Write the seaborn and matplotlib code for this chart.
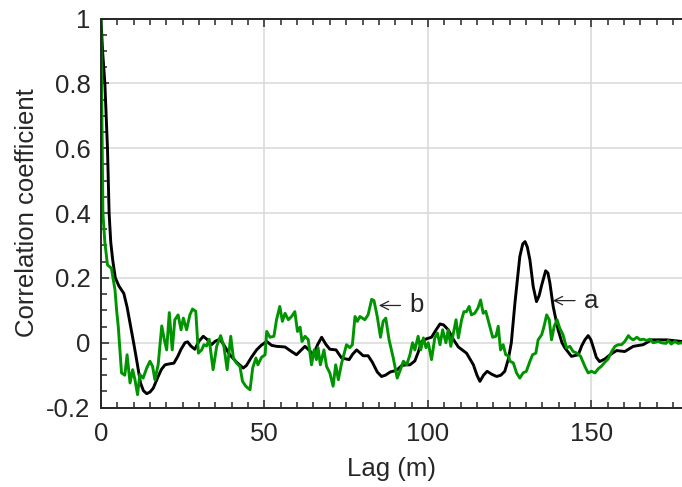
import numpy as np
import pandas as pd
import matplotlib
matplotlib.use("Agg")
import matplotlib.pyplot as plt
from matplotlib.ticker import MultipleLocator, FixedLocator, FixedFormatter
import seaborn as sns

# ---- data ----
lag_a = [0, 0.5, 1.2, 2.0, 2.5, 3.0, 3.6, 4.4, 5.5, 7.0, 8.0, 9.1, 10.0, 10.9, 12.1, 13.0, 14.0, 15.0, 16.0,
         17.5, 18.5, 19.6, 21.0, 22.3, 23.5, 24.5, 25.7, 26.5, 27.5, 28.7, 30.0, 31.3, 32.5, 33.8, 35.0, 36.4,
         37.8, 39.4, 41.5, 43.5, 44.5, 46.0, 47.6, 49.0, 50.7, 52.2, 53.7, 56.3, 58.0, 59.8, 61.0, 62.4, 63.9,
         64.9, 66.3, 67.5, 68.8, 70.0, 71.9, 73.6, 75.9, 77.0, 78.2, 80.2, 81.7, 83.0, 84.5, 85.8, 87.0, 88.5,
         90.4, 92.0, 93.5, 94.5, 96.0, 97.0, 98.1, 99.5, 101.1, 102.5, 103.7, 104.8, 106.2, 107.8, 109.3, 111.8,
         113.9, 115.0, 115.9, 117.0, 118.1, 119.5, 121.0, 122.3, 123.5, 124.6, 125.5, 126.6, 128.1, 129.0, 129.7,
         130.4, 131.2, 132.2, 133.2, 134.0, 134.8, 136.0, 136.7, 137.3, 138.3, 139.8, 141.0, 141.9, 143.9, 146.0,
         147.0, 148.0, 149.0, 149.8, 150.6, 151.5, 152.5, 154.1, 155.7, 157.7, 160.2, 162.8, 165.8, 168.4, 173.0,
         177.7]
corr_a = [1.0, 0.9, 0.8, 0.6, 0.4, 0.31, 0.255, 0.2, 0.175, 0.152, 0.11, 0.05, 0.0, -0.052, -0.124, -0.148,
          -0.157, -0.152, -0.14, -0.104, -0.082, -0.068, -0.065, -0.063, -0.042, -0.02, 0.0, 0.003, -0.01, -0.02,
          0.005, 0.02, 0.01, -0.006, 0.005, 0.011, -0.01, -0.037, -0.06, -0.078, -0.07, -0.045, -0.022, -0.008,
          0.004, -0.008, -0.011, -0.013, -0.025, -0.037, -0.025, -0.011, -0.025, -0.037, -0.005, 0.017, -0.005,
          -0.02, -0.022, -0.047, -0.052, -0.035, -0.022, -0.04, -0.04, -0.06, -0.09, -0.104, -0.1, -0.09, -0.085,
          -0.07, -0.068, -0.068, -0.056, -0.03, 0.004, 0.012, 0.017, 0.04, 0.058, 0.055, 0.04, 0.01, -0.013,
          -0.032, -0.068, -0.1, -0.119, -0.1, -0.088, -0.097, -0.104, -0.1, -0.088, -0.05, 0.0, 0.122, 0.266,
          0.305, 0.312, 0.295, 0.255, 0.173, 0.127, 0.145, 0.178, 0.222, 0.215, 0.184, 0.112, 0.04, 0.0, -0.016,
          -0.042, -0.037, -0.01, 0.009, 0.022, 0.01, -0.015, -0.045, -0.058, -0.05, -0.037, -0.024, -0.027,
          -0.011, -0.006, 0.009, 0.009, 0.004]

lag_b = [0, 0.2, 0.4, 0.6, 1.2, 2.0, 3.2, 3.7, 4.3, 4.8, 5.3, 6.3, 7.3, 8.0, 8.9, 9.7, 10.4, 11.2, 11.9, 12.9,
         14.0, 15.0, 15.8, 16.5, 17.5, 18.6, 19.4, 20.1, 20.9, 21.8, 22.6, 23.6, 24.5, 25.2, 26.2, 27.2, 28.0,
         29.0, 29.8, 30.8, 31.5, 32.3, 33.1, 34.3, 35.4, 36.6, 37.6, 38.6, 39.7, 40.5, 41.5, 42.5, 43.3, 44.3,
         45.6, 46.4, 47.4, 48.0, 49.1, 50.2, 50.7, 51.7, 52.9, 53.7, 54.7, 55.5, 56.3, 57.3, 58.3, 59.3, 60.1,
         60.9, 61.5, 62.4, 63.4, 64.4, 65.2, 65.9, 66.4, 67.1, 68.2, 69.0, 70.0, 71.0, 71.8, 72.6, 73.6, 75.1,
         76.1, 76.9, 77.7, 78.4, 79.2, 80.7, 81.7, 82.8, 83.5, 84.5, 85.5, 86.3, 87.1, 88.1, 89.4, 90.6, 91.4,
         92.5, 93.5, 94.5, 95.3, 96.0, 97.0, 97.8, 98.6, 99.4, 100.1, 101.1, 102.1, 102.9, 103.7, 104.5, 105.5,
         106.2, 107.0, 107.8, 108.6, 109.3, 110.3, 111.0, 111.8, 112.6, 113.3, 114.3, 115.3, 116.1, 116.9,
         117.7, 118.8, 119.8, 120.8, 121.5, 122.2, 123.0, 123.8, 124.6, 125.1, 126.1, 127.1, 128.1, 129.1,
         130.1, 131.2, 132.0, 133.0, 133.7, 134.8, 135.5, 136.3, 137.1, 137.8, 138.6, 139.5, 140.3, 141.3,
         142.4, 143.4, 144.4, 145.6, 146.7, 148.0, 149.0, 150.0, 151.1, 152.1, 153.1, 154.1, 155.1, 156.2,
         157.2, 158.2, 159.2, 160.2, 161.3, 162.0, 162.8, 163.9, 164.9, 165.9, 166.9, 167.9, 168.9, 170.4,
         171.4, 172.8, 173.5, 174.4, 175.5, 176.5, 177.7]
corr_b = [1.0, 0.8, 0.6, 0.4, 0.31, 0.24, 0.23, 0.2, 0.163, 0.1, 0.05, -0.093, -0.1, -0.037, -0.124, -0.083,
          -0.114, -0.16, -0.098, -0.109, -0.078, -0.057, -0.073, -0.114, -0.068, 0.052, 0.009, -0.022, 0.093,
          -0.022, 0.071, 0.086, 0.04, 0.076, 0.04, 0.086, 0.104, 0.097, -0.032, -0.022, -0.006, -0.01, 0.011,
          -0.083, -0.011, 0.022, -0.011, -0.083, 0.02, -0.047, -0.063, -0.073, -0.119, -0.134, -0.145, -0.078,
          -0.047, -0.068, -0.045, -0.037, 0.035, 0.017, 0.02, 0.071, 0.112, 0.066, 0.091, 0.071, 0.081, 0.096,
          0.035, 0.048, 0.004, 0.02, 0.01, -0.068, -0.022, -0.052, -0.015, -0.068, -0.022, -0.073, -0.093,
          -0.134, -0.068, -0.114, -0.063, -0.006, -0.015, -0.006, 0.081, 0.066, 0.081, 0.071, 0.086, 0.134,
          0.13, 0.081, 0.017, 0.066, 0.076, 0.01, -0.047, -0.109, -0.088, -0.057, -0.068, -0.037, 0.0, -0.022,
          0.02, -0.022, 0.015, -0.015, 0.0, -0.052, 0.015, 0.03, -0.006, 0.04, 0.0, 0.04, -0.011, 0.03, 0.071,
          0.015, 0.071, 0.096, 0.096, 0.112, 0.086, 0.091, 0.107, 0.132, 0.091, 0.097, 0.055, 0.017, 0.02,
          0.051, -0.022, -0.006, -0.037, -0.04, -0.057, -0.062, -0.093, -0.109, -0.093, -0.088, -0.057, -0.037,
          -0.032, 0.009, 0.025, 0.05, 0.086, 0.071, 0.009, 0.05, 0.071, 0.045, 0.025, -0.016, -0.011, -0.027,
          -0.032, -0.042, -0.073, -0.093, -0.088, -0.093, -0.08, -0.072, -0.06, -0.05, -0.027, -0.011, -0.006,
          -0.006, 0.004, 0.022, 0.014, 0.009, 0.017, 0.009, 0.011, 0.007, 0.011, 0.0, 0.004, 0.0, -0.002, 0.007,
          -0.004, 0.004, -0.002, 0.0]

x_ticks = [0, 50, 100, 150]
y_ticks = [-0.2, 0, 0.2, 0.4, 0.6, 0.8, 1]
y_tick_labels = ["-0.2", "0", "0.2", "0.4", "0.6", "0.8", "1"]

label_a = "a"
label_b = "b"
x_label = "Lag (m)"
y_label = "Correlation coefficient"

df_a = pd.DataFrame({"lag": lag_a, "corr": corr_a})
df_b = pd.DataFrame({"lag": lag_b, "corr": corr_b})

# ---- style ----
sns.set_theme(style="ticks")
plt.rcParams["font.family"] = ["Liberation Sans", "DejaVu Sans"]

DARK = "#262626"
FS = 18.5
fig = plt.figure(figsize=(6.82, 4.87), dpi=100)
ax = fig.add_axes([0.148, 0.163, 0.852, 0.799])

sns.lineplot(data=df_a, x="lag", y="corr", ax=ax, color="black", linewidth=2.1,
             estimator=None, sort=False)
sns.lineplot(data=df_b, x="lag", y="corr", ax=ax, color="#009400", linewidth=2.1,
             estimator=None, sort=False)

ax.set_xlim(0, 177.7)
ax.set_ylim(-0.2, 1.0)
ax.xaxis.set_major_locator(FixedLocator(x_ticks))
ax.xaxis.set_minor_locator(MultipleLocator(5))
ax.yaxis.set_major_locator(FixedLocator(y_ticks))
ax.yaxis.set_major_formatter(FixedFormatter(y_tick_labels))
ax.yaxis.set_minor_locator(MultipleLocator(0.05))

ax.grid(True, which="major", color="#d9d9d9", linewidth=1.1)
ax.set_axisbelow(True)

for side in ["left", "bottom", "top"]:
    ax.spines[side].set_visible(True)
    ax.spines[side].set_color(DARK)
    ax.spines[side].set_linewidth(1.4)
ax.spines["right"].set_visible(False)

ax.tick_params(which="both", direction="in", top=True, right=False, color=DARK, width=1.1,
               labelsize=FS, labelcolor=DARK)
ax.tick_params(axis="x", which="both", pad=10.5)
ax.tick_params(axis="y", which="both", pad=7.5)
ax.tick_params(which="major", length=6)
ax.tick_params(which="minor", length=4)

ax.set_xlabel(x_label, fontsize=FS, color=DARK, labelpad=8)
ax.set_ylabel(y_label, fontsize=FS, color=DARK, labelpad=5)

arrow_kw = dict(arrowstyle="->,head_length=0.5,head_width=0.25", color=DARK, lw=0.9,
                shrinkA=0, shrinkB=0)
ax.annotate("", xy=(85.0, 0.115), xytext=(91.6, 0.115), arrowprops=arrow_kw)
ax.text(94.3, 0.115, label_b, fontsize=FS, color=DARK, ha="left", va="center")
ax.annotate("", xy=(138.2, 0.13), xytext=(145.0, 0.13), arrowprops=arrow_kw)
ax.text(147.6, 0.13, label_a, fontsize=FS, color=DARK, ha="left", va="center")

fig.savefig("out.png", dpi=100)
